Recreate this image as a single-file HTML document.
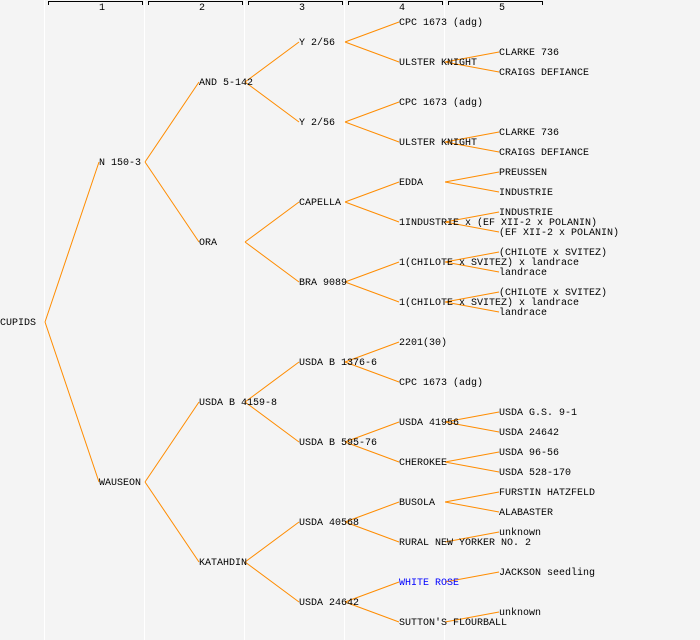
<!DOCTYPE html>
<html><head><meta charset="utf-8"><style>
body{margin:0;background:#f4f4f4}
svg{display:block}
text{font-family:"Liberation Mono",monospace;font-size:10px;fill:#000}
</style></head><body>
<svg width="700" height="640" xmlns="http://www.w3.org/2000/svg">
<rect width="700" height="640" fill="#f4f4f4"/>
<g stroke="#fff" stroke-width="1">
<line x1="44.5" y1="0" x2="44.5" y2="640"/><line x1="144.5" y1="0" x2="144.5" y2="640"/>
<line x1="244.5" y1="0" x2="244.5" y2="640"/><line x1="344.5" y1="0" x2="344.5" y2="640"/>
<line x1="444.5" y1="0" x2="444.5" y2="640"/>
</g>
<g stroke="#000" fill="none" stroke-width="1">
<path d="M48.5,5V1.5H142.5V5"/><path d="M148.5,5V1.5H242.5V5"/><path d="M248.5,5V1.5H342.5V5"/><path d="M348.5,5V1.5H442.5V5"/><path d="M448.5,5V1.5H542.5V5"/>
</g>
<g style="font-size:8px">
<text x="99" y="10">1</text><text x="199" y="10">2</text><text x="299" y="10">3</text><text x="399" y="10">4</text><text x="499" y="10">5</text>
</g>
<g stroke="#ff8c00" stroke-width="1" fill="none">
<path d="M45,322L99,162M45,322L99,482"/>
<path d="M145,162L199,82M145,162L199,242M145,482L199,402M145,482L199,562"/>
<path d="M245,82L299,42M245,82L299,122M245,242L299,202M245,242L299,282M245,402L299,362M245,402L299,442M245,562L299,522M245,562L299,602"/>
<path d="M345,42L399,22M345,42L399,62M345,122L399,102M345,122L399,142M345,202L399,182M345,202L399,222M345,282L399,262M345,282L399,302M345,362L399,342M345,362L399,382M345,442L399,422M345,442L399,462M345,522L399,502M345,522L399,542M345,602L399,582M345,602L399,622"/>
<path d="M445,62L499,52M445,62L499,72M445,142L499,132M445,142L499,152M445,182L499,172M445,182L499,192M445,222L499,212M445,222L499,232M445,262L499,252M445,262L499,272M445,302L499,292M445,302L499,312M445,422L499,412M445,422L499,432M445,462L499,452M445,462L499,472M445,502L499,492M445,502L499,512M445,542L499,532M445,582L499,572M445,622L499,612"/>
</g>
<g transform="translate(0,-1)">
<text x="0" y="326">CUPIDS</text>
<text x="99" y="166">N 150-3</text><text x="99" y="486">WAUSEON</text>
<text x="199" y="86">AND 5-142</text><text x="199" y="246">ORA</text><text x="199" y="406">USDA B 4159-8</text><text x="199" y="566">KATAHDIN</text>
<text x="299" y="46">Y 2/56</text><text x="299" y="126">Y 2/56</text><text x="299" y="206">CAPELLA</text><text x="299" y="286">BRA 9089</text>
<text x="299" y="366">USDA B 1376-6</text><text x="299" y="446">USDA B 595-76</text><text x="299" y="526">USDA 40568</text><text x="299" y="606">USDA 24642</text>
<text x="399" y="26">CPC 1673 (adg)</text><text x="399" y="66">ULSTER KNIGHT</text>
<text x="399" y="106">CPC 1673 (adg)</text><text x="399" y="146">ULSTER KNIGHT</text>
<text x="399" y="186">EDDA</text><text x="399" y="226">1INDUSTRIE x (EF XII-2 x POLANIN)</text>
<text x="399" y="266">1(CHILOTE x SVITEZ) x landrace</text><text x="399" y="306">1(CHILOTE x SVITEZ) x landrace</text>
<text x="399" y="346">2201(30)</text><text x="399" y="386">CPC 1673 (adg)</text>
<text x="399" y="426">USDA 41956</text><text x="399" y="466">CHEROKEE</text>
<text x="399" y="506">BUSOLA</text><text x="399" y="546">RURAL NEW YORKER NO. 2</text>
<text x="399" y="586" style="fill:#0000ff">WHITE ROSE</text><text x="399" y="626">SUTTON'S FLOURBALL</text>
<text x="499" y="56">CLARKE 736</text><text x="499" y="76">CRAIGS DEFIANCE</text>
<text x="499" y="136">CLARKE 736</text><text x="499" y="156">CRAIGS DEFIANCE</text>
<text x="499" y="176">PREUSSEN</text><text x="499" y="196">INDUSTRIE</text>
<text x="499" y="216">INDUSTRIE</text><text x="499" y="236">(EF XII-2 x POLANIN)</text>
<text x="499" y="256">(CHILOTE x SVITEZ)</text><text x="499" y="276">landrace</text>
<text x="499" y="296">(CHILOTE x SVITEZ)</text><text x="499" y="316">landrace</text>
<text x="499" y="416">USDA G.S. 9-1</text><text x="499" y="436">USDA 24642</text>
<text x="499" y="456">USDA 96-56</text><text x="499" y="476">USDA 528-170</text>
<text x="499" y="496">FURSTIN HATZFELD</text><text x="499" y="516">ALABASTER</text>
<text x="499" y="536">unknown</text><text x="499" y="576">JACKSON seedling</text><text x="499" y="616">unknown</text>
</g>
</svg>
</body></html>
